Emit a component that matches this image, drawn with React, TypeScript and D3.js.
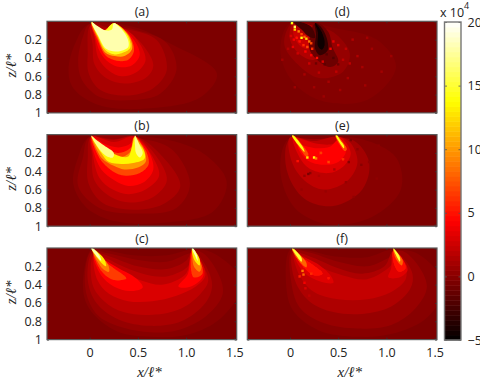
import { useEffect, useRef } from "react";
import * as d3 from "d3";

// field levels are x 10^4, positions in x/l*, z/l*
type Band = [number, number[][]];
type Spot = [number, number, number];

const titles = ["(a)", "(b)", "(c)", "(d)", "(e)", "(f)"];
const zTicks = [0.2, 0.4, 0.6, 0.8, 1];
const xTicks = [0, 0.5, 1, 1.5];
const cbarTicks = [-5, 0, 5, 10, 15, 20];
const backgroundLevel = -0.4;

const bandsA: Band[] = [
  [0, [[-0.01, 0.03], [0.45, 0.06], [0.83, 0.24], [1.32, 0.57], [1.15, 0.83], [0.63, 0.95], [0.11, 0.92], [-0.17, 0.73], [-0.22, 0.53], [-0.15, 0.24]]],
  [0.5, [[0, 0.03], [0.5, 0.1], [0.8, 0.24], [0.9, 0.53], [0.73, 0.79], [0.45, 0.86], [0.11, 0.83], [-0.08, 0.64], [-0.12, 0.43], [-0.07, 0.17]]],
  [1.2, [[0.01, 0.04], [0.2, 0.07], [0.45, 0.1], [0.7, 0.21], [0.8, 0.53], [0.66, 0.73], [0.38, 0.81], [0.11, 0.75], [-0.01, 0.57], [-0.02, 0.35]]],
  [2, [[0.01, 0.04], [0.15, 0.08], [0.27, 0.05], [0.5, 0.2], [0.66, 0.48], [0.58, 0.62], [0.36, 0.68], [0.17, 0.62], [0.05, 0.47], [0.03, 0.25]]],
  [3, [[0.02, 0.03], [0.14, 0.09], [0.25, 0.04], [0.45, 0.15], [0.58, 0.42], [0.48, 0.56], [0.33, 0.6], [0.2, 0.54], [0.09, 0.4], [0.05, 0.18]]],
  [4.4, [[0.02, 0.02], [0.14, 0.1], [0.25, 0.03], [0.42, 0.15], [0.52, 0.36], [0.44, 0.48], [0.31, 0.5], [0.2, 0.45], [0.11, 0.34], [0.05, 0.15]]],
  [7, [[0.02, 0.02], [0.14, 0.1], [0.25, 0.03], [0.4, 0.14], [0.46, 0.32], [0.4, 0.42], [0.28, 0.43], [0.17, 0.38], [0.08, 0.2]]],
  [11, [[0.02, 0.01], [0.15, 0.1], [0.25, 0.02], [0.4, 0.15], [0.44, 0.3], [0.36, 0.38], [0.26, 0.38], [0.16, 0.34], [0.08, 0.17]]],
  [14.5, [[0.02, 0.01], [0.15, 0.1], [0.25, 0.02], [0.39, 0.15], [0.42, 0.29], [0.33, 0.35], [0.25, 0.36], [0.16, 0.31], [0.08, 0.15]]],
  [18, [[0.02, 0.01], [0.08, 0.05], [0.17, 0.1], [0.23, 0.09], [0.25, 0.02], [0.38, 0.16], [0.4, 0.28], [0.28, 0.33], [0.17, 0.3], [0.09, 0.16]]],
];

const bandsB: Band[] = [
  [0, [[0, 0.02], [0.6, 0.02], [1.14, 0.18], [1.42, 0.51], [1.28, 0.84], [0.8, 0.96], [0.28, 0.95], [-0.03, 0.8], [-0.17, 0.54], [-0.12, 0.25]]],
  [0.5, [[0, 0.02], [0.5, 0.04], [0.85, 0.16], [1.04, 0.54], [0.9, 0.8], [0.45, 0.86], [0.1, 0.8], [-0.12, 0.56], [-0.07, 0.25]]],
  [1.2, [[0.01, 0.03], [0.25, 0.05], [0.48, 0.02], [0.72, 0.2], [0.94, 0.56], [0.76, 0.76], [0.45, 0.82], [0.14, 0.75], [-0.01, 0.54], [-0.02, 0.25]]],
  [2, [[0.01, 0.03], [0.25, 0.06], [0.47, 0.02], [0.68, 0.22], [0.8, 0.5], [0.66, 0.68], [0.42, 0.74], [0.22, 0.68], [0.05, 0.5], [0.02, 0.2]]],
  [3, [[0.02, 0.02], [0.25, 0.08], [0.47, 0.02], [0.64, 0.22], [0.72, 0.45], [0.58, 0.6], [0.4, 0.65], [0.24, 0.6], [0.1, 0.47], [0.03, 0.2]]],
  [4.4, [[0.02, 0.02], [0.15, 0.1], [0.3, 0.14], [0.42, 0.1], [0.47, 0.02], [0.55, 0.1], [0.62, 0.2], [0.66, 0.38], [0.56, 0.52], [0.4, 0.56], [0.26, 0.5], [0.12, 0.38], [0.03, 0.15]]],
  [7, [[0.02, 0.02], [0.15, 0.15], [0.3, 0.2], [0.42, 0.15], [0.47, 0.02], [0.55, 0.12], [0.6, 0.22], [0.61, 0.33], [0.52, 0.42], [0.38, 0.45], [0.27, 0.42], [0.13, 0.3], [0.04, 0.12]]],
  [10, [[0.02, 0.02], [0.14, 0.16], [0.3, 0.25], [0.42, 0.19], [0.46, 0.03], [0.53, 0.1], [0.58, 0.22], [0.58, 0.3], [0.5, 0.36], [0.36, 0.38], [0.25, 0.34], [0.13, 0.26]]],
  [13.5, [[0.02, 0.02], [0.1, 0.1], [0.2, 0.18], [0.32, 0.24], [0.4, 0.24], [0.44, 0.13], [0.47, 0.02], [0.5, 0.08], [0.56, 0.17], [0.57, 0.26], [0.45, 0.31], [0.33, 0.32], [0.2, 0.3], [0.12, 0.2]]],
  [17, [[0.015, 0.01], [0.06, 0.05], [0.15, 0.12], [0.25, 0.2], [0.24, 0.25], [0.18, 0.24], [0.1, 0.16]]],
  [17, [[0.47, 0.01], [0.52, 0.12], [0.55, 0.2], [0.52, 0.25], [0.48, 0.2], [0.47, 0.12]]],
];

const bandsC: Band[] = [
  [0, [[0.02, 0.01], [-0.07, 0.42], [0, 0.67], [0.28, 0.91], [0.63, 0.97], [1, 0.95], [1.32, 0.8], [1.55, 0.5], [1.55, 0.3], [1.25, 0.04], [1.05, 0.02], [0.8, 0.08], [0.45, 0.08], [0.15, 0.02]]],
  [0.5, [[0.02, 0.03], [-0.05, 0.3], [-0.02, 0.55], [0.1, 0.75], [0.35, 0.87], [0.63, 0.92], [0.9, 0.9], [1.2, 0.75], [1.38, 0.5], [1.32, 0.25], [1.15, 0.04], [1.03, 0.06], [0.8, 0.15], [0.5, 0.13], [0.2, 0.06]]],
  [1.2, [[0.03, 0.05], [-0.02, 0.35], [0.07, 0.6], [0.3, 0.78], [0.63, 0.85], [0.95, 0.8], [1.2, 0.6], [1.27, 0.4], [1.18, 0.15], [1.07, 0.03], [1, 0.14], [0.8, 0.23], [0.5, 0.2], [0.2, 0.09]]],
  [2, [[0.04, 0.08], [0.03, 0.4], [0.15, 0.58], [0.35, 0.7], [0.65, 0.73], [0.95, 0.66], [1.15, 0.5], [1.23, 0.35], [1.15, 0.15], [1.07, 0.05], [1.02, 0.2], [0.8, 0.31], [0.55, 0.28], [0.3, 0.18], [0.15, 0.1]]],
  [3, [[0.05, 0.1], [0.08, 0.35], [0.2, 0.5], [0.4, 0.58], [0.65, 0.58], [0.9, 0.52], [1.1, 0.42], [1.2, 0.3], [1.13, 0.1], [1.06, 0.04], [1, 0.28], [0.75, 0.4], [0.55, 0.36], [0.35, 0.27], [0.2, 0.16]]],
  [4.4, [[0.04, 0.08], [0.12, 0.3], [0.25, 0.42], [0.42, 0.47], [0.55, 0.43], [0.48, 0.33], [0.3, 0.22], [0.15, 0.13]]],
  [4.4, [[1.06, 0.03], [1.02, 0.28], [0.92, 0.42], [1.05, 0.42], [1.18, 0.3], [1.13, 0.12]]],
  [6.5, [[0.04, 0.06], [0.12, 0.25], [0.25, 0.35], [0.38, 0.33], [0.25, 0.22], [0.12, 0.12]]],
  [6.5, [[1.07, 0.02], [1.05, 0.22], [1.08, 0.32], [1.17, 0.28], [1.13, 0.1]]],
  [9, [[0.03, 0.03], [0.13, 0.22], [0.2, 0.26], [0.19, 0.18], [0.08, 0.06]]],
  [9, [[1.07, 0.02], [1.08, 0.2], [1.14, 0.26], [1.16, 0.2], [1.1, 0.07]]],
  [13, [[0.02, 0.01], [0.12, 0.16], [0.17, 0.2], [0.15, 0.12], [0.05, 0.02]]],
  [13, [[1.06, 0.01], [1.09, 0.14], [1.14, 0.19], [1.14, 0.12], [1.08, 0.02]]],
  [18, [[0.015, 0], [0.08, 0.1], [0.12, 0.14], [0.1, 0.08], [0.03, 0]]],
  [18, [[1.06, 0], [1.1, 0.1], [1.12, 0.14], [1.11, 0.07], [1.07, 0]]],
];

const bandsD: Band[] = [
  [-0.1, [[0, 0.02], [-0.1, 0.3], [0, 0.62], [0.3, 0.86], [0.8, 0.86], [1.1, 0.5], [0.9, 0.2], [0.5, 0.08]]],
  [0.5, [[0.02, 0.02], [-0.06, 0.25], [0.08, 0.47], [0.3, 0.62], [0.55, 0.55], [0.62, 0.35], [0.45, 0.12], [0.2, 0.04]]],
  [1.5, [[0.03, 0.02], [0, 0.2], [0.1, 0.36], [0.25, 0.42], [0.32, 0.3], [0.3, 0.1], [0.15, 0.02]]],
  [2.5, [[0.04, 0.06], [0.04, 0.16], [0.12, 0.28], [0.22, 0.3], [0.24, 0.18], [0.14, 0.14]]],
  [-1, [[0.25, 0.03], [0.21, 0.15], [0.2, 0.3], [0.28, 0.42], [0.42, 0.5], [0.5, 0.44], [0.44, 0.28], [0.4, 0.12], [0.3, 0.02]]],
  [-2.5, [[0.03, 0], [0.12, 0.01], [0.22, 0.06], [0.26, 0.18], [0.2, 0.17], [0.12, 0.09]]],
  [-3, [[0.26, 0.02], [0.27, 0.14], [0.26, 0.3], [0.31, 0.37], [0.39, 0.32], [0.38, 0.18], [0.32, 0.06]]],
  [-4.5, [[0.26, 0.02], [0.29, 0.12], [0.29, 0.27], [0.33, 0.31], [0.36, 0.25], [0.33, 0.12]]],
];

const bandsE: Band[] = [
  [0, [[-0.02, 0.05], [-0.1, 0.4], [0.05, 0.8], [0.4, 0.98], [0.85, 0.9], [1.15, 0.6], [1.1, 0.25], [0.75, 0.05], [0.3, 0.02]]],
  [1, [[-0.01, 0.06], [-0.03, 0.4], [0.15, 0.7], [0.45, 0.78], [0.75, 0.6], [0.82, 0.3], [0.65, 0.06], [0.25, 0.05]]],
  [2, [[0, 0.03], [0.02, 0.3], [0.15, 0.5], [0.35, 0.6], [0.6, 0.5], [0.7, 0.3], [0.62, 0.08], [0.48, 0.02], [0.25, 0.07]]],
  [3.2, [[0.03, 0.03], [0.1, 0.25], [0.2, 0.37], [0.4, 0.42], [0.55, 0.35], [0.63, 0.2], [0.52, 0.03], [0.45, 0.1], [0.28, 0.1], [0.15, 0.06]]],
  [4.6, [[0.08, 0.12], [0.18, 0.28], [0.35, 0.33], [0.5, 0.3], [0.58, 0.18], [0.5, 0.06], [0.42, 0.13], [0.28, 0.15]]],
  [7, [[0.02, 0.01], [0.09, 0.13], [0.17, 0.24], [0.19, 0.22], [0.11, 0.09], [0.04, 0.01]]],
  [7, [[0.47, 0.01], [0.51, 0.1], [0.57, 0.18], [0.59, 0.16], [0.54, 0.07], [0.49, 0.01]]],
  [14, [[0.02, 0.01], [0.09, 0.12], [0.15, 0.19], [0.14, 0.15], [0.08, 0.06], [0.035, 0.01]]],
  [14, [[0.475, 0.01], [0.51, 0.08], [0.56, 0.15], [0.56, 0.12], [0.52, 0.06], [0.49, 0.01]]],
];

const bandsF: Band[] = [
  [0, [[0, 0.02], [-0.04, 0.4], [0.03, 0.68], [0.3, 0.9], [0.7, 0.97], [1.05, 0.94], [1.4, 0.78], [1.56, 0.55], [1.55, 0.3], [1.3, 0.05], [1.05, 0.02], [0.8, 0.1], [0.45, 0.09], [0.15, 0.02]]],
  [0.6, [[0.02, 0.03], [0.01, 0.35], [0.1, 0.65], [0.35, 0.82], [0.7, 0.88], [1.05, 0.84], [1.3, 0.66], [1.42, 0.42], [1.3, 0.15], [1.15, 0.03], [1, 0.12], [0.8, 0.2], [0.5, 0.15], [0.2, 0.05]]],
  [1.4, [[0.03, 0.05], [0.05, 0.35], [0.2, 0.58], [0.45, 0.7], [0.75, 0.72], [1.05, 0.64], [1.25, 0.44], [1.27, 0.28], [1.15, 0.08], [1.07, 0.03], [0.98, 0.2], [0.75, 0.28], [0.5, 0.22], [0.2, 0.09]]],
  [2.2, [[0.04, 0.06], [0.1, 0.3], [0.25, 0.48], [0.5, 0.56], [0.8, 0.56], [1.05, 0.48], [1.2, 0.34], [1.2, 0.2], [1.12, 0.07], [1.04, 0.2], [0.8, 0.34], [0.55, 0.3], [0.3, 0.2], [0.12, 0.08]]],
  [3.2, [[0.05, 0.08], [0.13, 0.25], [0.3, 0.36], [0.45, 0.38], [0.42, 0.3], [0.28, 0.17], [0.14, 0.1]]],
  [3.2, [[1.07, 0.04], [1.05, 0.22], [1.02, 0.32], [1.14, 0.32], [1.22, 0.24], [1.15, 0.1]]],
  [5, [[0.05, 0.06], [0.13, 0.2], [0.25, 0.3], [0.34, 0.28], [0.22, 0.17], [0.12, 0.1]]],
  [5, [[1.07, 0.03], [1.08, 0.18], [1.13, 0.26], [1.2, 0.22], [1.14, 0.08]]],
  [8, [[0.02, 0.01], [0.1, 0.15], [0.17, 0.21], [0.17, 0.16], [0.08, 0.05], [0.04, 0.01]]],
  [8, [[1.07, 0.01], [1.1, 0.12], [1.16, 0.19], [1.17, 0.14], [1.11, 0.05]]],
  [15, [[0.02, 0], [0.07, 0.09], [0.12, 0.15], [0.12, 0.11], [0.05, 0.02]]],
  [15, [[1.07, 0], [1.1, 0.08], [1.14, 0.15], [1.14, 0.1], [1.09, 0.02]]],
];

const spotsD: Spot[] = [
  [0.02, 0.02, 14], [0.05, 0.06, 16], [0.05, 0.09, 12], [0.09, 0.11, 9], [0.12, 0.14, 7], [0.12, 0.18, 14],
  [0.15, 0.17, 8], [0.17, 0.19, 12], [0.2, 0.22, 9], [0.22, 0.24, 7], [0.1, 0.22, 5], [0.07, 0.18, 5],
  [0.04, 0.2, 4], [0.01, 0.16, 3], [0.03, 0.28, 3.5], [0.14, 0.26, 6], [0.18, 0.28, 7], [0.23, 0.3, 6],
  [0.16, 0.33, 4.5], [0.28, 0.4, 5], [0.22, 0.37, 4], [0.34, 0.44, 3], [0.42, 0.3, 4], [0.5, 0.26, 3],
  [0.45, 0.22, 3.5], [0.38, 0.36, -2], [0.45, 0.4, -2], [0.36, 0.47, -1.5], [0.5, 0.47, -1], [0.55, 0.42, 2],
  [0.27, 0.46, -1], [0.58, 0.3, 2], [0.62, 0.46, 2], [0.48, 0.55, 2], [0.3, 0.56, 2], [0.2, 0.46, 2.5],
  [0.08, 0.35, 2.5], [-0.02, 0.3, 1.5], [0.7, 0.38, 1.5], [0.75, 0.5, 1.2], [0.6, 0.62, 1.2], [0.4, 0.66, 1.2],
  [0.15, 0.58, 1.2], [0.85, 0.3, 1], [0.95, 0.55, 1], [0.78, 0.7, 1], [0.52, 0.75, 1], [0.25, 0.72, 1],
  [-0.08, 0.42, 1], [0.65, 0.2, 1.5], [0.8, 0.18, 1], [1.05, 0.38, 0.8], [0.05, 0.72, 0.8], [0.35, 0.82, 0.8],
];

const spotsE: Spot[] = [
  [0.18, 0.25, 13], [0.25, 0.25, 14], [0.27, 0.26, 9], [0.21, 0.42, 0.2], [0.19, 0.43, -0.5], [0.63, 0.06, -0.5],
  [0.15, 0.45, 0.6], [0.61, 0.3, 0], [0.74, 0.33, 0], [0.82, 0.3, 0.3], [0.4, 0.3, 7], [0.32, 0.2, 6.5],
  [0.55, 0.27, 6], [0.08, 0.29, 5], [0.46, 0.38, 1.5], [0.3, 0.45, 1.5], [0.7, 0.16, 0.3], [0.58, 0.52, 0.5],
  [0.37, 0.62, 0.6], [0.12, 0.6, 0.6], [0.9, 0.48, 0.3], [0.66, 0.68, 0.4], [0.92, 0.12, 0.1],
];

const spotsF: Spot[] = [
  [0.13, 0.25, 9], [0.14, 0.29, 8], [0.1, 0.31, 5.5], [0.15, 0.38, 4], [0.16, 0.44, 3], [0.22, 0.28, 6],
  [0.2, 0.52, 2], [0.4, 0.33, 5],
];

const allBands = [bandsA, bandsB, bandsC, bandsD, bandsE, bandsF];
const allSpots: Spot[][] = [[], [], [], spotsD, spotsE, spotsF];

// MATLAB hot stops over -5..20
const hot = d3.scaleLinear<string>()
  .domain([-5, 4.375, 13.75, 20])
  .range(["#000000", "#ff0000", "#ffff00", "#ffffff"])
  .clamp(true);

const panelW = 189.7;
const panelH = 91.6;
const colX = [47, 247.3];
const rowY = [21.3, 134.6, 248];
const xOf0 = 42.7; // px from panel edge to x = 0

export default function App() {
  const ref = useRef<SVGSVGElement>(null);

  useEffect(() => {
    const svg = d3.select(ref.current);
    svg.selectAll("*").remove();

    const textFont = "'Open Sans', 'Noto Sans', sans-serif";
    const defs = svg.append("defs");
    defs.append("filter").attr("id", "soft")
      .attr("x", "-5%").attr("y", "-5%").attr("width", "110%").attr("height", "110%")
      .append("feGaussianBlur").attr("stdDeviation", 0.55);

    const x = d3.scaleLinear().domain([-xOf0 / 96.4, (panelW - xOf0) / 96.4]).range([0, panelW]);
    const z = d3.scaleLinear().domain([0, 1]).range([0, panelH]);
    const ring = d3.line<number[]>()
      .x((d) => x(d[0]))
      .y((d) => z(d[1]))
      .curve(d3.curveCatmullRomClosed.alpha(0.5));

    titles.forEach((title, i) => {
      const col = i < 3 ? 0 : 1;
      const row = i % 3;
      const g = svg.append("g").attr("transform", `translate(${colX[col]},${rowY[row]})`);

      defs.append("clipPath").attr("id", `clip${i}`)
        .append("rect").attr("width", panelW).attr("height", panelH);

      const field = g.append("g").attr("clip-path", `url(#clip${i})`)
        .append("g").attr("filter", "url(#soft)");
      field.append("rect").attr("x", -4).attr("y", -4)
        .attr("width", panelW + 8).attr("height", panelH + 8)
        .attr("fill", hot(backgroundLevel));

      field.selectAll("path.band").data(allBands[i]).join("path")
        .attr("class", "band")
        .attr("d", (d) => ring(d[1]))
        .attr("fill", (d) => hot(d[0]));

      field.selectAll("rect.spot").data(allSpots[i]).join("rect")
        .attr("class", "spot")
        .attr("x", (d) => x(d[0]) - 1.2)
        .attr("y", (d) => z(d[1]) - 1.2)
        .attr("width", 2.4).attr("height", 2.4)
        .attr("fill", (d) => hot(d[2]));

      // frame and ticks on all four sides
      const bottom = d3.axisBottom(x).tickValues(xTicks).tickSize(-2).tickPadding(9)
        .tickFormat((d) => (d === 0 ? "0" : d3.format(".1f")(d as number)));
      const top = d3.axisTop(x).tickValues(xTicks).tickSize(-2).tickFormat(() => "");
      const left = d3.axisLeft(z).tickValues(zTicks).tickSize(-2).tickPadding(5)
        .tickFormat((d) => (d === 1 ? "1" : String(d)));
      const right = d3.axisRight(z).tickValues(zTicks).tickSize(-2).tickFormat(() => "");

      g.append("g").call(top).call((a) => a.selectAll("text").remove());
      g.append("g").attr("transform", `translate(${panelW},0)`).call(right)
        .call((a) => a.selectAll("text").remove());
      const bx = g.append("g").attr("transform", `translate(0,${panelH})`).call(bottom);
      if (row !== 2) bx.selectAll("text").remove();
      const ly = g.append("g").call(left);
      if (col !== 0) ly.selectAll("text").remove();

      g.selectAll(".domain").remove();
      g.selectAll(".tick line").attr("stroke", "#333").attr("stroke-width", 0.8);
      g.selectAll(".tick text").attr("fill", "#222")
        .style("font-family", textFont).style("font-size", "12.5px");

      g.append("rect").attr("width", panelW).attr("height", panelH)
        .attr("fill", "none").attr("stroke", "#5c5c5c").attr("stroke-width", 1.2);

      g.append("text").attr("x", panelW / 2).attr("y", -5)
        .attr("text-anchor", "middle").attr("fill", "#222")
        .style("font-family", textFont).style("font-size", "12.5px")
        .text(title);

      if (col === 0) {
        g.append("text")
          .attr("transform", `translate(-31,${panelH / 2 - 1.5}) rotate(-90)`)
          .attr("text-anchor", "middle").attr("fill", "#222")
          .style("font-family", "'Liberation Serif', serif")
          .style("font-style", "italic").style("font-size", "15px")
          .text("z/ℓ*");
      }
      if (row === 2) {
        g.append("text").attr("x", x(0.62)).attr("y", panelH + 37)
          .attr("text-anchor", "middle").attr("fill", "#222")
          .style("font-family", "'Liberation Serif', serif")
          .style("font-style", "italic").style("font-size", "15px")
          .text("x/ℓ*");
      }
    });

    // colour bar
    const cbX = 444.5;
    const cbW = 16.5;
    const cbY = d3.scaleLinear().domain([-5, 20]).range([340, 22]);
    const cb = svg.append("g");
    const steps = d3.range(64);
    cb.selectAll("rect.step").data(steps).join("rect")
      .attr("class", "step")
      .attr("x", cbX).attr("width", cbW)
      .attr("y", (d) => cbY(-5 + ((d + 1) * 25) / 64))
      .attr("height", 25 / 64 * (318 / 25) + 0.5)
      .attr("fill", (d) => hot(-5 + ((d + 0.5) * 25) / 64));
    const cbAxis = d3.axisRight(cbY).tickValues(cbarTicks).tickSize(-2.5).tickPadding(6.5)
      .tickFormat((d) => (d === -5 ? "−5" : String(d)));
    const ca = cb.append("g").attr("transform", `translate(${cbX + cbW},0)`).call(cbAxis);
    ca.select(".domain").remove();
    ca.selectAll(".tick line").attr("stroke", "#555").attr("stroke-width", 0.8);
    ca.selectAll(".tick text").attr("fill", "#222")
      .style("font-family", textFont).style("font-size", "12.5px");
    const cl = cb.append("g").attr("transform", `translate(${cbX},0)`)
      .call(d3.axisLeft(cbY).tickValues(cbarTicks).tickSize(-2.5).tickFormat(() => ""));
    cl.select(".domain").remove();
    cl.selectAll("text").remove();
    cl.selectAll(".tick line").attr("stroke", "#555").attr("stroke-width", 0.8);
    cb.append("rect").attr("x", cbX).attr("y", 22).attr("width", cbW).attr("height", 318)
      .attr("fill", "none").attr("stroke", "#777").attr("stroke-width", 1.4);

    svg.append("text").attr("x", 440).attr("y", 17).attr("fill", "#222")
      .style("font-family", textFont).style("font-size", "12.5px").text("x 10");
    svg.append("text").attr("x", 464).attr("y", 9).attr("fill", "#222")
      .style("font-family", textFont).style("font-size", "9px").text("4");
  }, []);

  return (
    <svg
      ref={ref}
      width={480}
      height={383}
      style={{ position: "fixed", left: 0, top: 0, background: "white" }}
    />
  );
}
